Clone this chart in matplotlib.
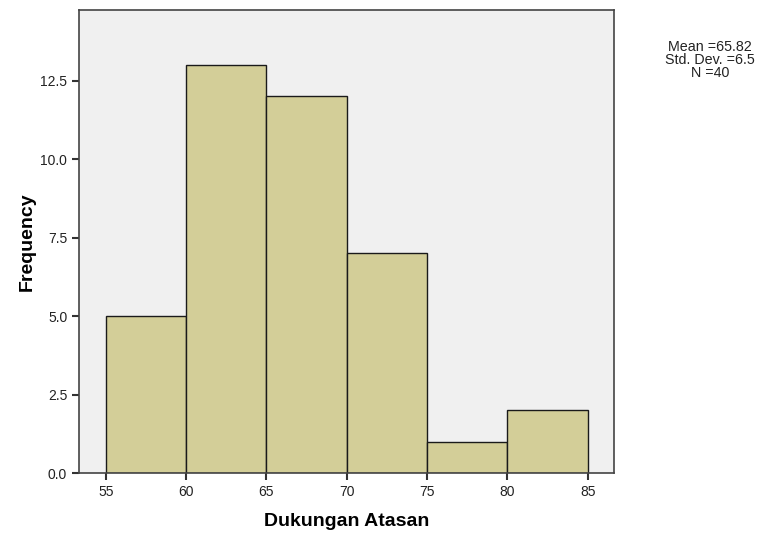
import matplotlib.pyplot as plt
import numpy as np

plt.rcParams['font.family'] = ['Liberation Sans', 'DejaVu Sans']

bin_edges = [55, 60, 65, 70, 75, 80, 85]
freq = [5, 13, 12, 7, 1, 2]
xticks = [55, 60, 65, 70, 75, 80, 85]
yticks = [0.0, 2.5, 5.0, 7.5, 10.0, 12.5]
stats_text = "Mean =65.82\nStd. Dev. =6.5\nN =40"

fig = plt.figure(figsize=(7.62, 5.39), dpi=100)
ax = fig.add_axes([0.1037, 0.1224, 0.7021, 0.859])
ax.set_facecolor('#f0f0f0')

lefts = np.array(bin_edges[:-1])
widths = np.diff(bin_edges)
ax.bar(lefts, freq, width=widths, align='edge', color='#d3ce98',
       edgecolor='#1a1a1a', linewidth=1.0)

ax.set_xlim(53.34, 86.64)
ax.set_ylim(0, 14.75)
ax.set_xticks(xticks)
ax.set_yticks(yticks)
ax.set_yticklabels(['%.1f' % v for v in yticks])
ax.tick_params(direction='out', length=5, width=1.5, color='#333333',
               labelsize=10, labelcolor='#222222')
for s in ax.spines.values():
    s.set_color('#444444')
    s.set_linewidth(1.2)

ax.set_xlabel('Dukungan Atasan', fontsize=14, fontweight='bold', labelpad=10)
ax.set_ylabel('Frequency', fontsize=14, fontweight='bold', labelpad=3)

fig.text(0.932, 0.925, stats_text, ha='center', va='top', fontsize=10.3,
         linespacing=0.9, color='#222222')

fig.savefig('out.png', dpi=100)
